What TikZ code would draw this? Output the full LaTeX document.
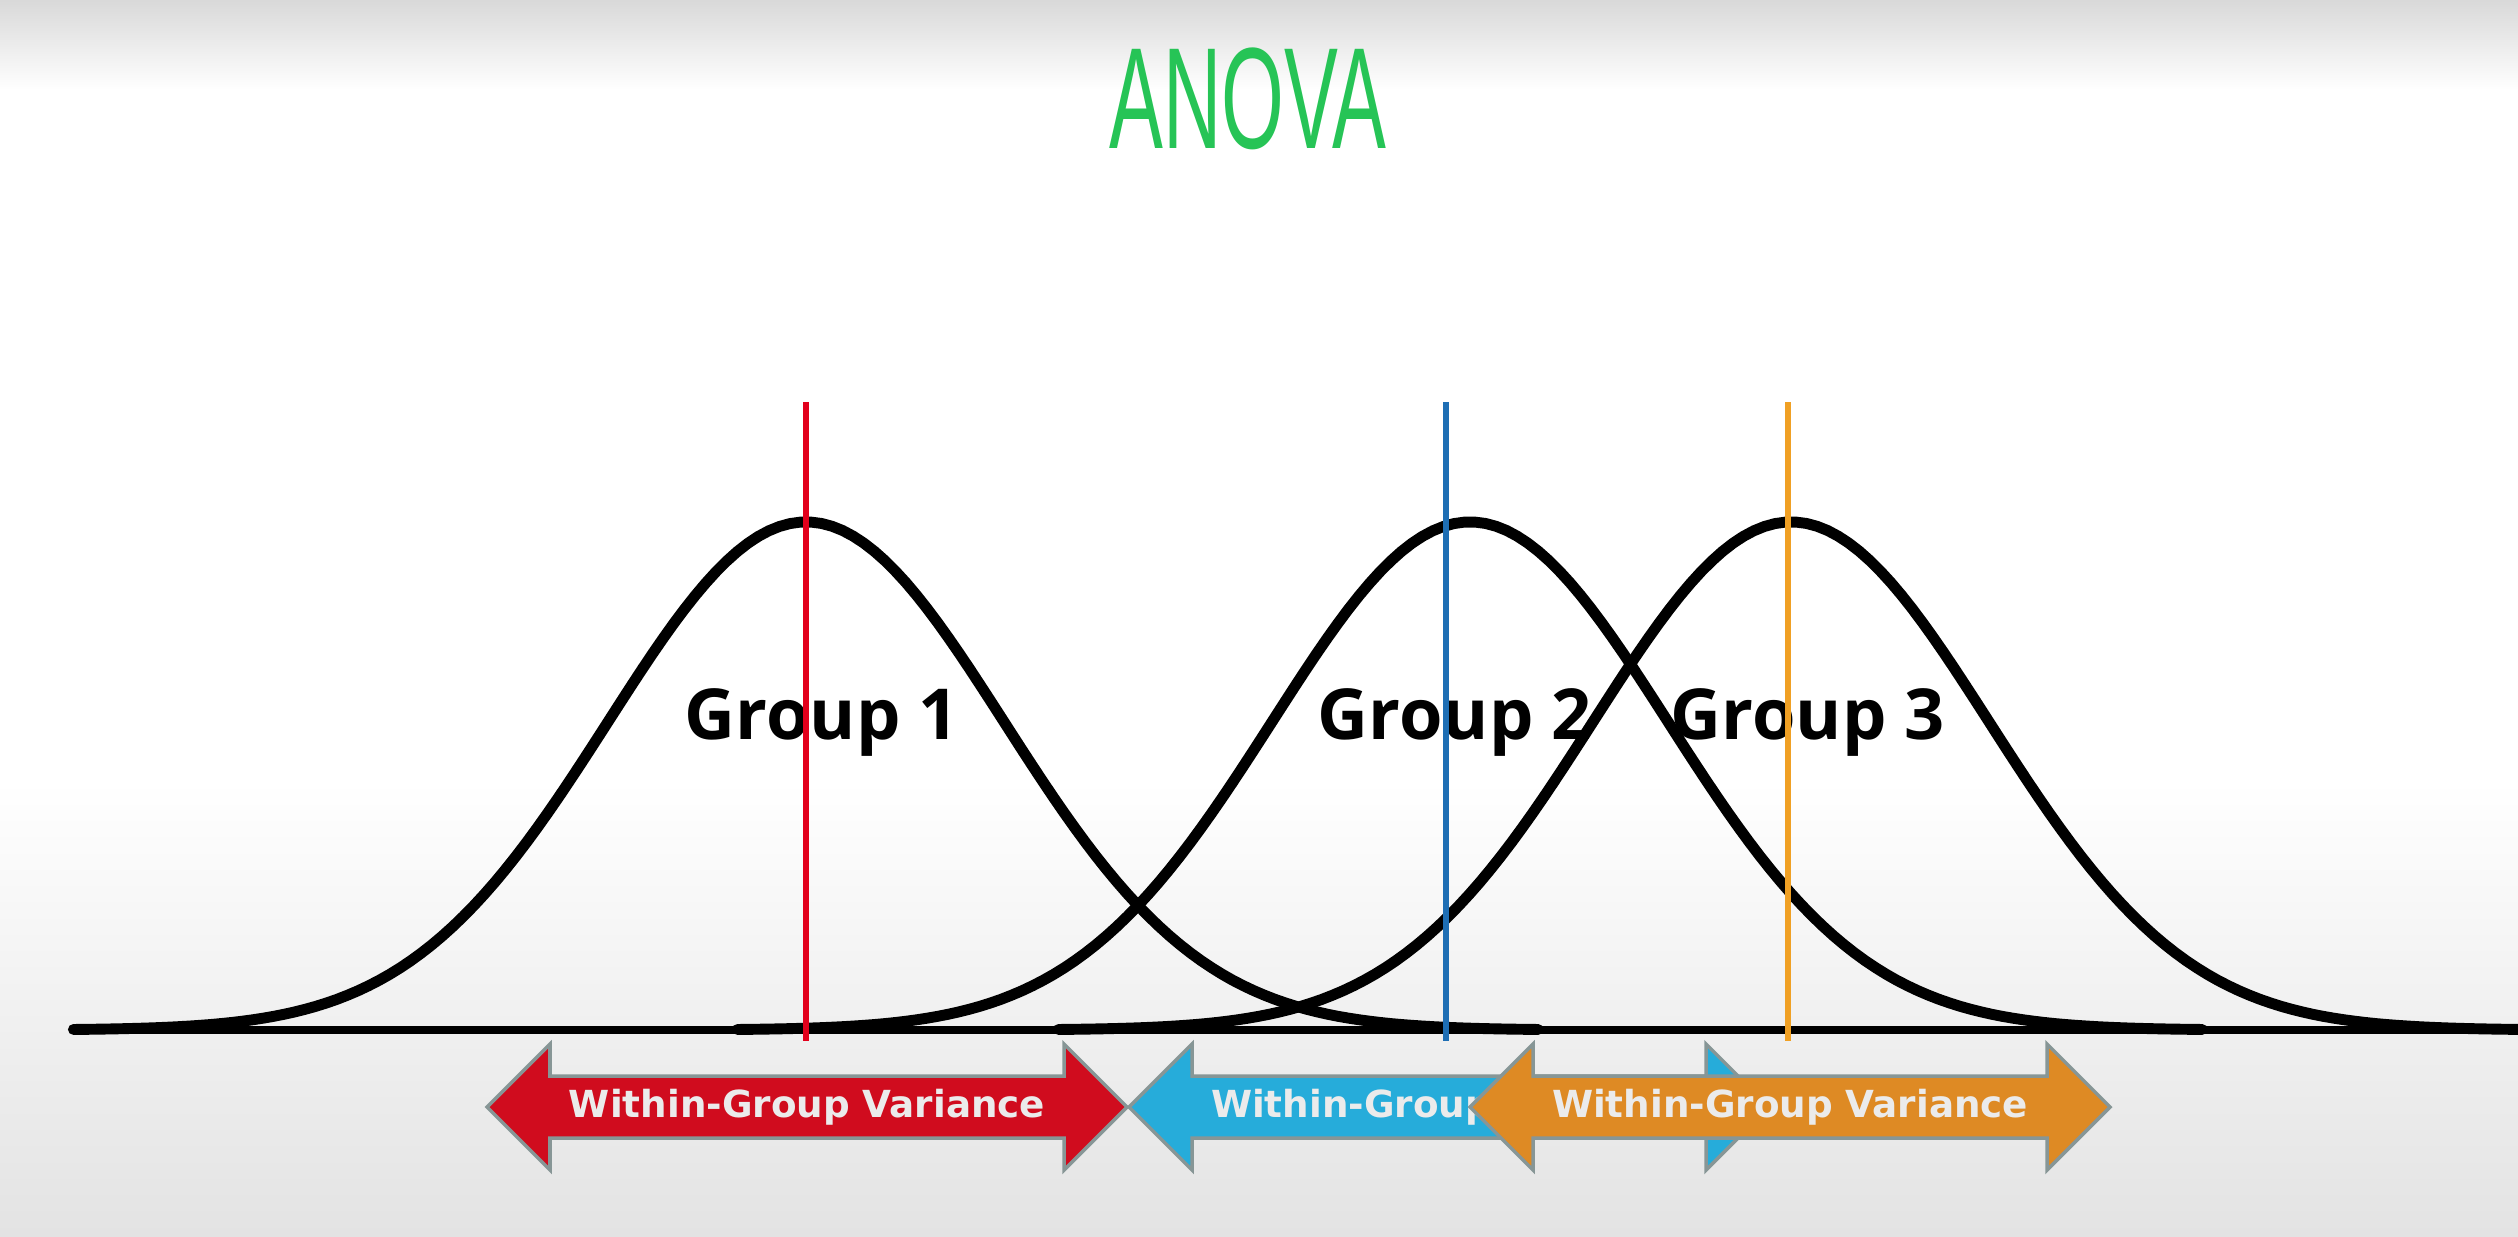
\documentclass[tikz,border=0pt]{standalone}
\usepackage{fontspec}
\setmainfont{Open Sans}
\newfontfamily\arrowfont{DejaVu Sans}
\newfontfamily\titlefont{Liberation Sans}
\usepackage{tikz}
\usetikzlibrary{calc}
\definecolor{anovagreen}{RGB}{38,196,86}
\definecolor{grpred}{RGB}{208,12,30}
\definecolor{grpblue}{RGB}{38,172,218}
\definecolor{grporange}{RGB}{222,138,36}
\definecolor{linered}{RGB}{226,0,28}
\definecolor{lineblue}{RGB}{30,110,180}
\definecolor{lineorange}{RGB}{240,160,36}
\definecolor{rimgray}{RGB}{135,150,150}

\begin{document}
\begin{tikzpicture}[x=0.01cm, y=-0.01cm,
  bell/.style={line width=3.1pt, black, line cap=round},
  meanline/.style={line width=1.5pt},
  arrowbox/.style={draw=rimgray, line width=1pt},
  grouplabel/.style={font=\bfseries\fontsize{20}{24}\selectfont},
  varlabel/.style={font=\arrowfont\bfseries\fontsize{10.6}{12}\selectfont, text=white!92!black}]
  \useasboundingbox (0,0) rectangle (2518,1236);
  % background
  \fill[white] (0,0) rectangle (2518,1236);
  \shade[top color=gray!30, bottom color=white] (0,0) rectangle (2518,90);
  \shade[top color=white, bottom color=gray!22] (0,780) rectangle (2518,1236);

  \node[font=\titlefont\fontsize{41}{41}\selectfont, xscale=0.56, text=anovagreen] (title) at (1248,99) {ANOVA};

  % bell curves
  \foreach \mu in {806,1470,1791}
    \draw[bell, domain=-3.7:3.7, samples=140] plot ({\mu+198*\x}, {1030-508*exp(-0.5*\x*\x)});

  % axis
  \draw[line width=2.3pt] (72,1030) -- (2518,1030);

  \node[grouplabel] (g1) at (822,722) {Group 1};
  \node[grouplabel] (g2) at (1455,722) {Group 2};
  \node[grouplabel] (g3) at (1808,722) {Group 3};

  % group means
  \draw[meanline, linered] (806,402) -- (806,1041);
  \draw[meanline, lineblue] (1446,402) -- (1446,1041);
  \draw[meanline, lineorange] (1788,402) -- (1788,1041);

  % within-group arrows
  \foreach \xa/\col in {487/grpred, 1129/grpblue, 1470/grporange} {
    \draw[arrowbox, fill=\col] (\xa,1107) -- ++(63,-63) -- ++(0,32) -- ++(514,0) -- ++(0,-32) -- ++(63,63)
      -- ++(-63,63) -- ++(0,-32) -- ++(-514,0) -- ++(0,32) -- cycle;
    \node[varlabel] (var-\col) at ({\xa+320},1107) {Within-Group Variance};
  }
\end{tikzpicture}
\end{document}
